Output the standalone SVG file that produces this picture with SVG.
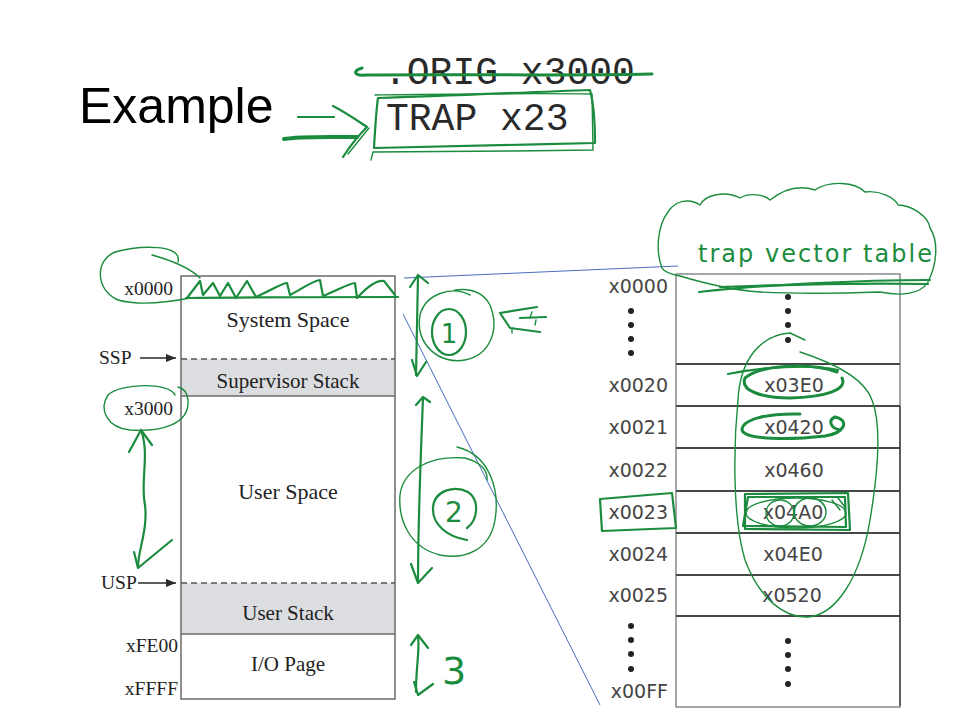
<svg xmlns="http://www.w3.org/2000/svg" width="960" height="720" viewBox="0 0 960 720">
<style>
.serif{font-family:"Liberation Serif","Times New Roman",serif;fill:#222}
.sans{font-family:"DejaVu Sans","Liberation Sans",sans-serif;fill:#454545;font-size:19px}
.mono{font-family:"Liberation Mono","Courier New",monospace;fill:#2a2a2a;font-size:38px}
.g{fill:none;stroke:#1b8c3e;stroke-linecap:round;stroke-linejoin:round}
.gt{stroke-width:1.4}
.gm{stroke-width:2.2}
.gk{stroke-width:3}
.hand{font-family:"DejaVu Sans","Liberation Sans",sans-serif;fill:#1b8c3e}
.row{stroke:#474747;stroke-width:2}
.blue{stroke:#4a6cc0;stroke-width:1;fill:none}
</style>
<defs>
<marker id="ah" markerWidth="10" markerHeight="8" refX="10" refY="4" orient="auto" markerUnits="userSpaceOnUse">
<path d="M0,0 L10,4 L0,8 Z" fill="#2a2a2a"/>
</marker>
</defs>
<rect width="960" height="720" fill="#ffffff"/>

<g id="title">
<text x="79" y="123" font-family="Liberation Sans, Arial, sans-serif" font-size="50" fill="#000">Example</text>
</g>

<g id="code">
<text class="mono" x="384" y="84">.ORIG x3000</text>
<text class="mono" x="386" y="130">TRAP x23</text>
</g>

<g id="memory-map">
<g id="system-space">
<rect x="181" y="276" width="214" height="83" fill="#fff"/>
<text class="serif" x="288" y="327" font-size="22" text-anchor="middle">System Space</text>
</g>
<g id="supervisor-stack">
<rect x="181" y="359" width="214" height="37" fill="#dcdde0"/>
<text class="serif" x="288" y="388" font-size="21" text-anchor="middle">Supervisor Stack</text>
</g>
<g id="user-space">
<rect x="181" y="396" width="214" height="187" fill="#fff"/>
<text class="serif" x="288" y="499" font-size="22" text-anchor="middle">User Space</text>
</g>
<g id="user-stack">
<rect x="181" y="583" width="214" height="51" fill="#dcdde0"/>
<text class="serif" x="288" y="620" font-size="21" text-anchor="middle">User Stack</text>
</g>
<g id="io-page">
<rect x="181" y="634" width="214" height="65" fill="#fff"/>
<text class="serif" x="288" y="671" font-size="21" text-anchor="middle">I/O Page</text>
</g>
<rect x="181" y="276" width="214" height="423" fill="none" stroke="#6a6a6a" stroke-width="1.5"/>
<line x1="181" y1="396" x2="395" y2="396" stroke="#6a6a6a" stroke-width="1.5"/>
<line x1="181" y1="634" x2="395" y2="634" stroke="#6a6a6a" stroke-width="1.5"/>
<line x1="181" y1="359" x2="395" y2="359" stroke="#555" stroke-width="1.3" stroke-dasharray="6 4"/>
<line x1="181" y1="583" x2="395" y2="583" stroke="#555" stroke-width="1.3" stroke-dasharray="6 4"/>
<text class="serif" x="173" y="295" font-size="19.5" text-anchor="end">x0000</text>
<text class="serif" x="173" y="415" font-size="19.5" text-anchor="end">x3000</text>
<text class="serif" x="178" y="652" font-size="19.5" text-anchor="end">xFE00</text>
<text class="serif" x="178" y="695" font-size="19.5" text-anchor="end">xFFFF</text>
<text class="serif" x="99" y="364" font-size="19.5">SSP</text>
<text class="serif" x="101" y="589" font-size="19.5">USP</text>
</g>

<g id="trap-vector-table">
<rect x="676" y="274" width="224" height="433" fill="#fff" stroke="#8a8a8a" stroke-width="1.5"/>
<line class="row" x1="676" y1="364" x2="900" y2="364"/>
<line class="row" x1="676" y1="406" x2="900" y2="406"/>
<line class="row" x1="676" y1="448" x2="900" y2="448"/>
<line class="row" x1="676" y1="491" x2="900" y2="491"/>
<line class="row" x1="676" y1="533" x2="900" y2="533"/>
<line class="row" x1="676" y1="575" x2="900" y2="575"/>
<line class="row" x1="676" y1="616" x2="900" y2="616"/>
<line x1="900" y1="406" x2="900" y2="706" stroke="#444" stroke-width="1.5"/>
<g fill="#222">
<circle cx="631" cy="311" r="3"/><circle cx="631" cy="325" r="3"/><circle cx="631" cy="339" r="3"/><circle cx="631" cy="353" r="3"/>
<circle cx="788" cy="297" r="3"/><circle cx="788" cy="311" r="3"/><circle cx="788" cy="325" r="3"/><circle cx="788" cy="340" r="3"/>
<circle cx="631" cy="626" r="3"/><circle cx="631" cy="640" r="3"/><circle cx="631" cy="654" r="3"/><circle cx="631" cy="669" r="3"/>
<circle cx="788" cy="641" r="3"/><circle cx="788" cy="655" r="3"/><circle cx="788" cy="669" r="3"/><circle cx="788" cy="684" r="3"/>
</g>
<text class="sans" x="668" y="293" text-anchor="end">x0000</text>
<text class="sans" x="668" y="392" text-anchor="end">x0020</text>
<text class="sans" x="668" y="434" text-anchor="end">x0021</text>
<text class="sans" x="668" y="477" text-anchor="end">x0022</text>
<text class="sans" x="668" y="519" text-anchor="end">x0023</text>
<text class="sans" x="668" y="561" text-anchor="end">x0024</text>
<text class="sans" x="668" y="602" text-anchor="end">x0025</text>
<text class="sans" x="668" y="698" text-anchor="end">x00FF</text>
<text class="sans" x="794" y="392" text-anchor="middle">x03E0</text>
<text class="sans" x="794" y="434" text-anchor="middle">x0420</text>
<text class="sans" x="794" y="477" text-anchor="middle">x0460</text>
<text class="sans" x="793" y="519" text-anchor="middle">x04A0</text>
<text class="sans" x="793" y="561" text-anchor="middle">x04E0</text>
<text class="sans" x="792" y="602" text-anchor="middle">x0520</text>
</g>

<g id="connectors">
<line x1="140" y1="358" x2="176" y2="358" stroke="#2a2a2a" stroke-width="1.3" marker-end="url(#ah)"/>
<line x1="138" y1="583" x2="176" y2="583" stroke="#2a2a2a" stroke-width="1.3" marker-end="url(#ah)"/>
<line class="blue" x1="404" y1="278" x2="678" y2="266"/>
<line class="blue" x1="403" y1="314" x2="600" y2="705"/>
</g>

<g id="annotations">
<path class="g gk" d="M 362 68 C 352 71 354 76 366 75 C 450 74 560 76 652 74"/>
<path class="g gm" d="M 378 98 C 450 96 530 92 590 90 C 594 105 595 125 595 143 C 520 145 440 146 374 148 C 375 130 376 112 378 98"/>
<path class="g gt" d="M 375 95 C 450 94 520 93 592 94 L 593 150 C 520 151 440 152 373 152 L 371 160"/>
<path class="g gm" d="M 298 117 L 334 117"/>
<path class="g" stroke-width="4" d="M 284 139 C 300 136 330 137 357 137"/>
<path class="g gm" d="M 333 106 C 345 112 358 121 367 127 C 358 136 350 146 343 157"/>
<path class="g gt" d="M 348 154 L 369 128"/>
<path class="g gt" d="M 178 262 C 183 244 140 245 115 252 C 95 260 95 290 118 300 C 140 306 170 302 190 298"/>
<path class="g gt" d="M 152 255 C 170 260 190 268 200 278"/>
<path class="g gm" d="M 187 298 L 200 281 L 203 295 L 213 283 L 220 296 L 228 283 L 236 298 L 247 281 L 256 297 C 272 290 282 283 287 283 L 290 295 C 300 290 312 281 320 280 L 323 296 C 338 290 350 283 355 283 L 357 298 C 368 286 378 280 384 281 L 395 295"/>
<path class="g gm" d="M 186 298 C 250 297 330 297 398 297"/>
<path class="g gt" d="M 175 395 C 170 382 120 383 108 395 C 98 410 108 428 130 430 C 160 432 190 425 188 400 C 187 392 183 388 178 387"/>
<path class="g gm" d="M 141 430 C 150 455 140 480 145 505 C 148 530 138 550 138 567"/>
<path class="g gm" d="M 129 452 L 141 430 L 152 445"/>
<path class="g gm" d="M 134 552 L 138 568 L 172 540"/>
<path class="g gm" d="M 418 276 L 416 375"/>
<path class="g gm" d="M 410 287 L 418 275 L 428 283"/>
<path class="g gm" d="M 412 360 L 417 376 L 426 362"/>
<path class="g gt" d="M 470 295 C 450 285 425 295 420 315 C 415 345 440 365 465 360 C 490 355 500 330 490 305 C 483 292 470 288 455 290"/>
<ellipse class="g gm" cx="449" cy="332" rx="17" ry="23"/>
<text class="hand" x="449" y="343" font-size="26" text-anchor="middle">1</text>
<path class="g gm" d="M 537 307 L 500 313 L 510 328 L 540 332"/>
<path class="g gm" d="M 520 318 L 546 317"/>
<path class="g gt" d="M 532 312 L 530 318 M 536 320 L 535 325 M 512 328 L 512 333"/>
<path class="g gm" d="M 423 398 C 421 450 418 520 418 582"/>
<path class="g gm" d="M 416 405 L 423 397 L 430 402"/>
<path class="g gm" d="M 411 564 L 418 583 L 432 568"/>
<path class="g gt" d="M 457 447 C 490 455 500 490 495 520 C 490 550 465 560 440 555 C 410 548 398 520 400 495 C 403 470 430 455 465 458 C 480 462 488 470 487 480"/>
<path class="g gm" d="M 467 540 C 448 537 432 525 433 508 C 434 490 455 485 468 492 C 480 500 478 520 467 528"/>
<text class="hand" x="454" y="522" font-size="28" text-anchor="middle">2</text>
<path class="g gm" d="M 418 636 C 420 650 416 665 416 692"/>
<path class="g gm" d="M 411 645 L 418 635 L 428 648"/>
<path class="g gm" d="M 414 682 L 418 695 L 433 684"/>
<text class="hand" x="442" y="684" font-size="38">3</text>
<path class="g gt" d="M 662 268 C 655 250 658 225 668 212 C 675 200 690 198 700 205 C 705 195 725 190 740 198 C 750 192 765 195 770 200 C 785 188 800 185 815 190 C 830 180 855 182 865 192 C 880 190 895 198 898 205 C 910 205 928 215 930 228 C 938 240 938 262 928 282 C 920 295 900 296 880 292 C 850 293 800 294 760 292 C 730 290 700 282 680 276 C 670 274 664 272 662 268"/>
<text class="hand" x="698" y="262" font-size="24" textLength="234" lengthAdjust="spacing">trap vector table</text>
<path class="g gm" d="M 699 292 C 760 285 860 280 930 280"/>
<path class="g gm" d="M 720 287 C 800 284 880 283 928 284"/>
<path class="g gt" d="M 790 333 C 760 335 740 360 738 400 C 733 450 733 520 745 560 C 760 600 785 618 808 617 C 835 615 860 580 870 520 C 880 460 880 420 872 400 C 865 380 840 365 800 352"/>
<path class="g gt" d="M 790 333 L 805 340"/>
<path class="g gk" d="M 837 372 C 810 362 760 365 745 378 C 740 390 760 398 790 398 C 825 397 848 390 842 378"/>
<path class="g gm" d="M 728 374 C 760 367 810 364 838 370"/>
<path class="g gk" d="M 800 414 C 765 413 742 420 742 430 C 745 440 790 440 825 436 C 845 433 850 420 835 417 C 828 420 830 428 840 430"/>
<path class="g gm" d="M 745 494 L 848 493 L 850 530 L 745 529 Z"/>
<path class="g gm" d="M 748 497 L 845 497 L 846 527 L 743 526 Z"/>
<ellipse class="g gt" cx="796" cy="513" rx="50" ry="15"/>
<ellipse class="g gt" cx="780" cy="513" rx="14" ry="13"/>
<ellipse class="g gt" cx="810" cy="512" rx="16" ry="14"/>
<path class="g gt" d="M 832 500 L 840 510 M 838 498 L 845 507"/>
<path class="g gm" d="M 600 499 L 672 493 L 676 528 L 602 531 Z"/>
</g>
</svg>
